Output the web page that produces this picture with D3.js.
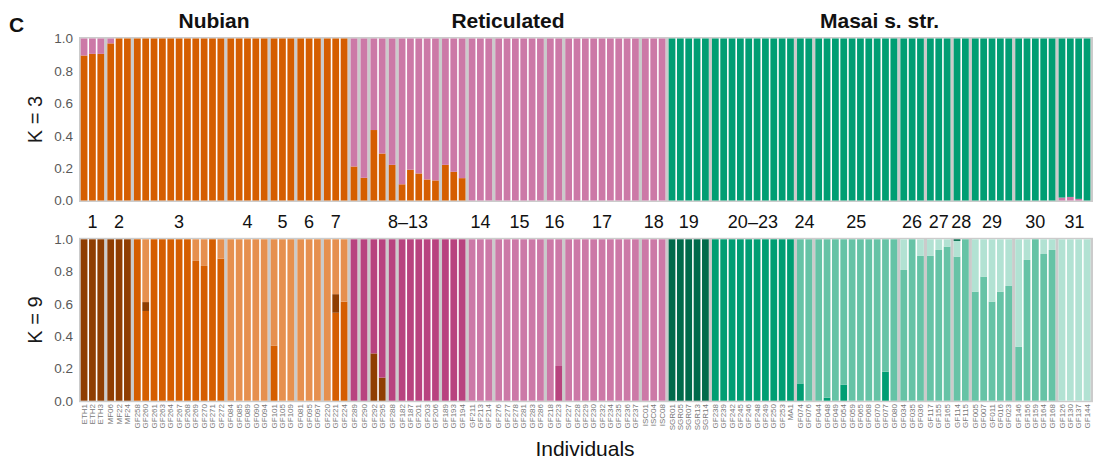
<!DOCTYPE html>
<html>
<head>
<meta charset="utf-8">
<script src="https://cdn.jsdelivr.net/npm/d3@7"></script>
<style>
  body { margin: 0; background: #fff; }
  svg { display: block; font-family: "Liberation Sans", Arial, Helvetica, sans-serif; }
</style>
</head>
<body>
<svg width="1093" height="460"></svg>
<script>
// species and sampling-site blocks
const species = ["Nubian", "Reticulated", "Masai s. str."];
const speciesBlocks = [7, 11, 10];
const blockLabels = ["1", "2", "3", "4", "5", "6", "7",
  "8–13", "8–13", "8–13", "8–13", "8–13", "8–13",
  "14", "15", "16", "17", "18",
  "19", "20–23",
  "24", "25", "26", "27", "28", "29", "30", "31"];
const blockSizes = [3, 3, 11, 5, 3, 3, 3,
  1, 1, 2, 1, 5, 3,
  3, 6, 2, 9, 3,
  5, 10,
  2, 10, 3, 3, 2, 5, 5, 4];

const individuals = [
  "ETH1", "ETH2", "ETH3",
  "MF06", "MF22", "MF24",
  "GF258", "GF260", "GF261", "GF263", "GF264", "GF267", "GF268", "GF269", "GF270", "GF271", "GF272",
  "GF084", "GF085", "GF089", "GF090", "GF094",
  "GF101", "GF105", "GF109",
  "GF081", "GF095", "GF097",
  "GF220", "GF221", "GF224",
  "GF289",
  "GF290",
  "GF292", "GF295",
  "GF288",
  "GF182", "GF187", "GF201", "GF203", "GF206",
  "GF189", "GF193", "GF194",
  "GF211", "GF213", "GF214",
  "GF276", "GF277", "GF278", "GF281", "GF283", "GF286",
  "GF218", "GF223",
  "GF227", "GF228", "GF229", "GF230", "GF232", "GF234", "GF235", "GF236", "GF237",
  "ISC01", "ISC04", "ISC08",
  "SGR01", "SGR05", "SGR07", "SGR13", "SGR14",
  "GF238", "GF239", "GF242", "GF245", "GF246", "GF248", "GF249", "GF250", "GF253", "MA1",
  "GF074", "GF076",
  "GF044", "GF048", "GF049", "GF054", "GF059", "GF065", "GF068", "GF070", "GF077", "GF080",
  "GF034", "GF035", "GF036",
  "GF117", "GF155", "GF165",
  "GF114", "GF115",
  "GF005", "GF007", "GF011", "GF016", "GF023",
  "GF146", "GF156", "GF159", "GF164", "GF168",
  "GF126", "GF130", "GF137", "GF144"
];

// cluster colours, in stacking order (bottom first)
const k3Colors = ["#d55e00", "#cc79a7", "#009e73"];
const k9Colors = ["#d55e00", "#8f3e02", "#e6904f", "#b8437f", "#cc79a7",
  "#009e73", "#66c3a6", "#b2e2d3", "#006a4b"];

// cluster that takes the whole bar unless listed below
const k3Main = [0, 0, 0, 0, 0, 0, 0, 1, 1, 1, 1, 1, 1, 1, 1, 1, 1, 1, 2, 2, 2, 2, 2, 2, 2, 2, 2, 2];
const k9Main = [1, 1, 0, 2, 2, 2, 2, 3, 3, 3, 3, 3, 3, 4, 4, 4, 4, 4, 8, 5, 6, 6, 6, 6, 6, 6, 6, 7];

// admixed individuals: {cluster: proportion}
const k3Mixed = {
  ETH1: {0: 0.895, 1: 0.105}, ETH2: {0: 0.905, 1: 0.095}, ETH3: {0: 0.905, 1: 0.095},
  MF06: {0: 0.97, 1: 0.03},
  GF289: {0: 0.21, 1: 0.79}, GF290: {0: 0.14, 1: 0.86},
  GF292: {0: 0.435, 1: 0.565}, GF295: {0: 0.29, 1: 0.71},
  GF288: {0: 0.22, 1: 0.78},
  GF182: {0: 0.10, 1: 0.90}, GF187: {0: 0.19, 1: 0.81}, GF201: {0: 0.167, 1: 0.833},
  GF203: {0: 0.13, 1: 0.87}, GF206: {0: 0.124, 1: 0.876},
  GF189: {0: 0.22, 1: 0.78}, GF193: {0: 0.177, 1: 0.823}, GF194: {0: 0.138, 1: 0.862},
  GF126: {1: 0.018, 2: 0.982}, GF130: {1: 0.022, 2: 0.978}, GF137: {1: 0.01, 2: 0.99}
};
const k9Mixed = {
  GF260: {0: 0.556, 1: 0.055, 2: 0.389},
  GF269: {0: 0.866, 2: 0.134}, GF270: {0: 0.835, 2: 0.165}, GF272: {0: 0.88, 2: 0.12},
  GF101: {0: 0.34, 2: 0.66},
  GF221: {0: 0.545, 1: 0.115, 2: 0.34}, GF224: {0: 0.614, 2: 0.386},
  GF292: {1: 0.293, 3: 0.707}, GF295: {1: 0.143, 3: 0.857},
  GF223: {3: 0.215, 4: 0.785},
  GF074: {5: 0.107, 6: 0.893}, GF048: {5: 0.019, 6: 0.981},
  GF054: {5: 0.10, 6: 0.90}, GF077: {5: 0.18, 6: 0.82},
  GF034: {6: 0.81, 7: 0.19}, GF036: {6: 0.897, 7: 0.103},
  GF117: {6: 0.897, 7: 0.103}, GF155: {6: 0.934, 7: 0.066}, GF165: {6: 0.955, 7: 0.045},
  GF114: {6: 0.893, 7: 0.097, 8: 0.01},
  GF005: {6: 0.676, 7: 0.324}, GF007: {6: 0.769, 7: 0.231}, GF011: {6: 0.614, 7: 0.386},
  GF016: {6: 0.676, 7: 0.324}, GF023: {6: 0.711, 7: 0.289},
  GF146: {6: 0.335, 7: 0.665}, GF156: {6: 0.872, 7: 0.128},
  GF164: {6: 0.909, 7: 0.091}, GF168: {6: 0.934, 7: 0.066}
};

const svg = d3.select("svg");
const gapRatio = 0.19;
const sep = 1.6;

const blockOf = [];
blockSizes.forEach((n, b) => { for (let k = 0; k < n; k++) blockOf.push(b); });
const pos = individuals.map((_, i) => i + blockOf[i] * gapRatio);

const x = d3.scaleLinear()
  .domain([0, individuals.length + (blockSizes.length - 1) * gapRatio])
  .range([80.7, 1092]);

function qRows(main, mixed, k) {
  return individuals.map((name, i) => {
    const row = {name: name, i: i};
    d3.range(k).forEach(c => { row[c] = 0; });
    if (mixed[name]) Object.entries(mixed[name]).forEach(([c, v]) => { row[c] = v; });
    else row[main[blockOf[i]]] = 1;
    return row;
  });
}

function drawPanel(top, bottom, main, mixed, colors, kLabel) {
  const y = d3.scaleLinear().domain([0, 1]).range([bottom, top]);
  const g = svg.append("g");

  g.append("rect")
    .attr("x", 79).attr("y", top - 1.5)
    .attr("width", 1093 - 79).attr("height", bottom - top + 3)
    .attr("fill", "#cbcbcb");

  // white behind each block so bars within a block are split by white lines
  const starts = d3.range(blockSizes.length).map(b => blockOf.indexOf(b));
  g.selectAll(".blk").data(starts).join("rect")
    .attr("x", (s, b) => x(pos[s]))
    .attr("y", top)
    .attr("width", (s, b) => x(pos[s + blockSizes[b] - 1] + 1) - sep - x(pos[s]))
    .attr("height", bottom - top)
    .attr("fill", "#fff");

  const rows = qRows(main, mixed, colors.length);
  const series = d3.stack().keys(d3.range(colors.length))(rows);

  g.selectAll(".layer").data(series).join("g")
    .attr("fill", d => colors[d.key])
    .selectAll("rect")
    .data(d => d.filter(s => s[1] - s[0] > 0))
    .join("rect")
    .attr("x", d => x(pos[d.data.i]))
    .attr("width", d => x(pos[d.data.i] + 1) - x(pos[d.data.i]) - sep)
    .attr("y", d => y(d[1]))
    .attr("height", d => y(d[0]) - y(d[1]));

  const axis = g.append("g")
    .attr("transform", "translate(79,0)")
    .call(d3.axisLeft(y).tickValues([0, 0.2, 0.4, 0.6, 0.8, 1]).tickFormat(d3.format(".1f")).tickSize(0).tickPadding(6));
  axis.select(".domain").remove();
  axis.selectAll("text")
    .attr("font-size", 13.5)
    .attr("font-family", "Liberation Sans, Arial, sans-serif")
    .attr("fill", "#595959");

  g.append("text")
    .attr("transform", `translate(42,${(top + bottom) / 2}) rotate(-90)`)
    .attr("text-anchor", "middle")
    .attr("font-size", 20)
    .attr("fill", "#1a1a1a")
    .text(kLabel);
}

drawPanel(38.5, 200.5, k3Main, k3Mixed, k3Colors, "K = 3");
drawPanel(239.3, 400.7, k9Main, k9Mixed, k9Colors, "K = 9");

// species titles
let b0 = 0;
species.forEach((name, s) => {
  const first = blockOf.indexOf(b0);
  const lastBlock = b0 + speciesBlocks[s] - 1;
  const last = blockOf.lastIndexOf(lastBlock);
  const cx = (x(pos[first]) + x(pos[last] + 1) - sep) / 2;
  svg.append("text")
    .attr("x", cx).attr("y", 28)
    .attr("text-anchor", "middle")
    .attr("font-size", 21)
    .attr("font-weight", "bold")
    .attr("fill", "#111")
    .text(name);
  b0 += speciesBlocks[s];
});

// site numbers between the panels
const spans = [];
blockLabels.forEach((lab, b) => {
  const first = blockOf.indexOf(b);
  const last = blockOf.lastIndexOf(b);
  const prev = spans[spans.length - 1];
  if (prev && prev.label === lab) prev.last = last;
  else spans.push({label: lab, first: first, last: last});
});
svg.selectAll(".site").data(spans).join("text")
  .attr("x", d => (x(pos[d.first]) + x(pos[d.last] + 1) - sep) / 2)
  .attr("y", 228)
  .attr("text-anchor", "middle")
  .attr("font-size", 18)
  .attr("fill", "#111")
  .text(d => d.label);

// individual names
svg.selectAll(".ind").data(individuals).join("text")
  .attr("transform", (d, i) => `translate(${x(pos[i] + 0.5) - sep / 2 + 2.7},404) rotate(-90)`)
  .attr("text-anchor", "end")
  .attr("font-size", 8)
  .attr("fill", "#777")
  .text(d => d);

svg.append("text")
  .attr("x", 585).attr("y", 456)
  .attr("text-anchor", "middle")
  .attr("font-size", 21)
  .attr("fill", "#111")
  .text("Individuals");

svg.append("text")
  .attr("x", 9).attr("y", 32)
  .attr("font-size", 21)
  .attr("font-weight", "bold")
  .attr("fill", "#111")
  .text("C");
</script>
</body>
</html>
